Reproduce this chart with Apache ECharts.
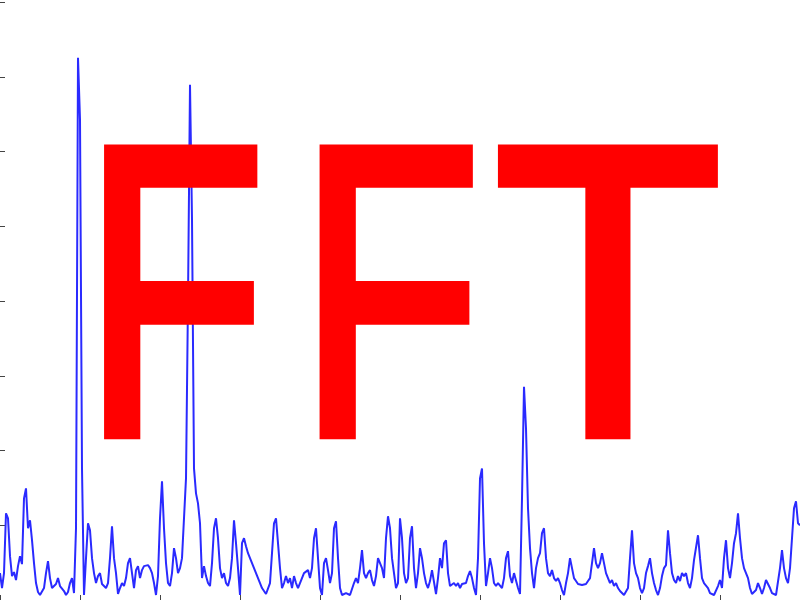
<!DOCTYPE html>
<html>
<head>
<meta charset="utf-8">
<script src="https://cdn.jsdelivr.net/npm/echarts@6/dist/echarts.min.js"></script>
<style>
  html, body { margin: 0; padding: 0; background: #fff; }
  #fftChart { width: 800px; height: 600px; }
</style>
</head>
<body>
<div id="fftChart"></div>
<script>
// magnitude per frequency bin (401 bins)
var mag = [
  27,12,27,87,82,44,24,28,20,34, 44,36,102,112,72,80,60,37,17,8,
  5,6,12,27,39,22,12,10,16,22, 14,12,9,5,8,17,22,7,72,544,
  482,132,5,42,77,70,42,27,17,24, 27,16,14,12,17,42,74,42,27,6,
  12,17,14,22,37,42,27,12,30,34, 22,30,34,32,35,32,27,17,5,24,
  82,119,72,37,17,14,27,52,42,27, 32,42,82,122,302,517,382,132,107,97,
  77,22,34,24,17,14,37,72,82,62, 32,22,27,17,14,22,42,80,57,32,
  5,57,62,54,47,42,37,32,27,22, 17,12,9,6,5,17,47,77,82,57,
  32,12,17,24,17,22,12,24,17,12, 14,22,27,25,30,22,32,62,72,42,
  12,5,37,42,30,17,27,72,79,42, 12,5,5,7,5,5,7,17,22,17,
  32,50,27,22,27,30,20,14,24,42, 37,32,22,62,84,72,42,27,12,17,
  82,62,27,17,22,62,74,32,12,27, 52,42,27,17,12,19,30,32,6,22,
  42,32,57,60,27,14,12,17,14,17, 12,16,14,17,24,29,22,12,5,42,
  122,132,57,14,27,42,32,17,14,17, 16,12,22,42,49,24,17,27,27,12,
  6,102,214,172,92,52,27,12,32,42, 47,67,72,42,27,24,30,22,19,22,
  17,10,5,17,27,42,32,22,19,16, 17,15,17,16,19,22,37,52,37,32,
  37,47,37,27,22,17,20,14,17,12, 9,7,5,5,12,42,70,37,27,22,
  12,7,12,27,34,42,27,17,10,5, 12,24,32,35,70,47,27,20,17,24,
  19,27,24,27,17,12,22,40,42,65, 42,22,17,19,12,7,5,5,6,14,
  20,12,42,60,32,22,37,57,67,87, 62,42,32,27,22,12,6,5,10,17,
  12,6,12,20,22,12,7,5,5,6, 32,50,32,22,17,32,62,92,99,77,
  75
];
var binMax = 400;
var binStep = 40;
var magMax = 600;
var magStep = 75;
var logoLetters = ['F', 'F', 'T'];

var points = mag.map(function (v, i) { return [i, v]; });

var tickStyle = { show: true, inside: true, length: 5, lineStyle: { color: '#444', width: 1 } };
function xAx(pos) {
  return {
    type: 'value', position: pos, min: 0, max: binMax, interval: binStep,
    axisLine: { show: false }, axisTick: tickStyle,
    axisLabel: { show: false }, splitLine: { show: false }
  };
}
function yAx(pos) {
  return {
    type: 'value', position: pos, min: 0, max: magMax, interval: magStep,
    axisLine: { show: false }, axisTick: tickStyle,
    axisLabel: { show: false }, splitLine: { show: false }
  };
}

var letterX = [174.5, 390, 608];
var letterScale = [0.72, 0.72, 0.9];

var chart = echarts.init(document.getElementById('fftChart'));
chart.setOption({
  animation: false,
  backgroundColor: '#ffffff',
  grid: { left: 0, right: 0, top: 2, bottom: -2 },
  xAxis: [xAx('top'), xAx('bottom')],
  yAxis: [yAx('left'), yAx('right')],
  series: [{
    type: 'line',
    data: points,
    showSymbol: false,
    lineStyle: { color: '#2a2aff', width: 2 },
    z: 2
  }],
  graphic: logoLetters.map(function (ch, i) {
    return {
      type: 'text',
      x: letterX[i],
      y: 320,
      scaleX: letterScale[i],
      z: 100,
      style: {
        text: ch,
        font: '411px "Liberation Sans", Arial, sans-serif',
        fill: '#ff0000',
        stroke: '#ff0000',
        lineWidth: 12,
        lineJoin: 'round',
        textAlign: 'center',
        textVerticalAlign: 'middle'
      }
    };
  })
});
</script>
</body>
</html>
